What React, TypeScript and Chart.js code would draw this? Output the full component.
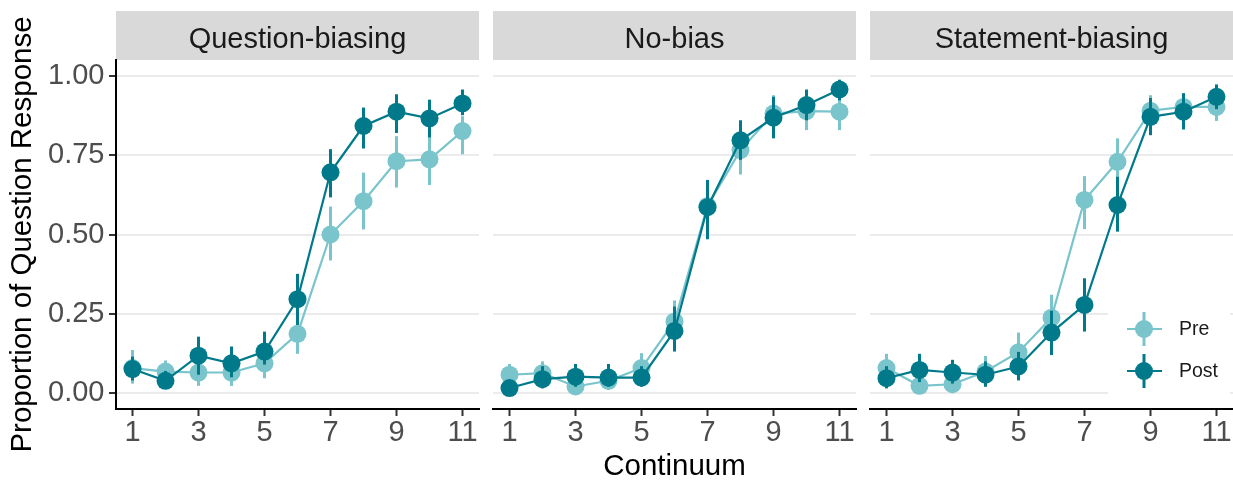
import React, { useEffect, useRef } from 'react';
import { Chart, registerables } from 'chart.js';

Chart.register(...registerables);

const FONT = "'Liberation Sans', Arial, Helvetica, sans-serif";

// ---- data ----
const continuum = [1, 2, 3, 4, 5, 6, 7, 8, 9, 10, 11];
const xTickValues = [1, 3, 5, 7, 9, 11];
const yTickValues = [0, 0.25, 0.5, 0.75, 1];
const yTickLabels = ['0.00', '0.25', '0.50', '0.75', '1.00'];
const panelTitles = ['Question-biasing', 'No-bias', 'Statement-biasing'];
const seriesNames = ['Pre', 'Post'];
const seriesColors = ['#7AC4CC', '#007A8A'];

// Question-biasing
const qPre = [0.079, 0.068, 0.065, 0.065, 0.094, 0.187, 0.5, 0.605, 0.731, 0.737, 0.826];
const qPreLo = [0.03, 0.035, 0.023, 0.023, 0.047, 0.124, 0.418, 0.516, 0.648, 0.656, 0.753];
const qPreHi = [0.136, 0.103, 0.105, 0.105, 0.14, 0.25, 0.588, 0.695, 0.81, 0.81, 0.873];
const qPost = [0.076, 0.039, 0.118, 0.094, 0.131, 0.296, 0.696, 0.842, 0.887, 0.866, 0.913];
const qPostLo = [0.04, 0.015, 0.058, 0.05, 0.09, 0.215, 0.617, 0.771, 0.82, 0.806, 0.876];
const qPostHi = [0.115, 0.07, 0.178, 0.147, 0.194, 0.376, 0.769, 0.9, 0.942, 0.925, 0.957];

// No-bias
const nPre = [0.058, 0.063, 0.021, 0.039, 0.079, 0.226, 0.59, 0.766, 0.881, 0.889, 0.887];
const nPreLo = [0.025, 0.03, 0.0, 0.01, 0.04, 0.16, 0.5, 0.689, 0.825, 0.829, 0.829];
const nPreHi = [0.092, 0.1, 0.05, 0.075, 0.126, 0.292, 0.67, 0.84, 0.939, 0.945, 0.935];
const nPost = [0.016, 0.044, 0.052, 0.049, 0.049, 0.196, 0.586, 0.797, 0.868, 0.908, 0.957];
const nPostLo = [0.0, 0.015, 0.02, 0.02, 0.02, 0.131, 0.485, 0.735, 0.803, 0.86, 0.923];
const nPostHi = [0.04, 0.085, 0.092, 0.092, 0.085, 0.273, 0.672, 0.86, 0.934, 0.957, 0.988];

// Statement-biasing
const sPre = [0.079, 0.023, 0.028, 0.068, 0.129, 0.238, 0.609, 0.729, 0.89, 0.902, 0.902];
const sPreLo = [0.04, 0.0, 0.0, 0.03, 0.08, 0.17, 0.517, 0.661, 0.84, 0.855, 0.858];
const sPreHi = [0.124, 0.05, 0.06, 0.117, 0.191, 0.31, 0.684, 0.803, 0.939, 0.946, 0.945];
const sPost = [0.047, 0.073, 0.065, 0.058, 0.084, 0.191, 0.278, 0.593, 0.871, 0.887, 0.934];
const sPostLo = [0.015, 0.035, 0.03, 0.02, 0.04, 0.12, 0.194, 0.509, 0.813, 0.831, 0.895];
const sPostHi = [0.085, 0.124, 0.105, 0.1, 0.13, 0.26, 0.362, 0.682, 0.93, 0.945, 0.973];

const panelData = [
  [[qPre, qPreLo, qPreHi], [qPost, qPostLo, qPostHi]],
  [[nPre, nPreLo, nPreHi], [nPost, nPostLo, nPostHi]],
  [[sPre, sPreLo, sPreHi], [sPost, sPostLo, sPostHi]],
];

// ---- layout of the three canvases ----
const panels = [
  { left: 0, width: 480, padLeft: 0, padRight: 1, yAxis: true, xTitle: false, legend: false },
  { left: 480, width: 377, padLeft: 13, padRight: 1, yAxis: false, xTitle: true, legend: false },
  { left: 857, width: 376, padLeft: 13, padRight: 0, yAxis: false, xTitle: false, legend: true },
];
const H = 482;

// ---- plugins ----
const errorBarPlugin = {
  id: 'errorBars',
  beforeDatasetDraw(chart: any, args: any) {
    const ds = chart.data.datasets[args.index];
    const { ctx } = chart;
    const x = chart.scales.x;
    const y = chart.scales.y;
    ctx.save();
    ctx.strokeStyle = ds.borderColor;
    ctx.lineWidth = 3;
    ctx.lineCap = 'butt';
    ds.data.forEach((p: any) => {
      const px = x.getPixelForValue(p.x);
      ctx.beginPath();
      ctx.moveTo(px, y.getPixelForValue(p.lo));
      ctx.lineTo(px, y.getPixelForValue(p.hi));
      ctx.stroke();
    });
    ctx.restore();
  },
};

const stripPlugin = {
  id: 'strip',
  beforeDraw(chart: any, _args: any, opts: any) {
    const { ctx, chartArea } = chart;
    ctx.save();
    ctx.fillStyle = '#D9D9D9';
    ctx.fillRect(chartArea.left, 11, chartArea.right - chartArea.left, 49);
    ctx.fillStyle = '#1A1A1A';
    ctx.font = `29px ${FONT}`;
    ctx.textAlign = 'center';
    ctx.textBaseline = 'alphabetic';
    ctx.fillText(opts.text, (chartArea.left + chartArea.right) / 2, 47.5);
    ctx.restore();
  },
};

const insetLegendPlugin = {
  id: 'insetLegend',
  afterDraw(chart: any, _args: any, opts: any) {
    if (!opts.display) return;
    const { ctx, chartArea } = chart;
    const r = chartArea.right;
    const b = chartArea.bottom;
    ctx.save();
    ctx.fillStyle = '#FFFFFF';
    ctx.fillRect(r - 125, b - 111, 122, 104);
    const cx = r - 89;
    const rows = [b - 80, b - 38];
    seriesNames.forEach((name, i) => {
      const cy = rows[i];
      const col = seriesColors[i];
      ctx.strokeStyle = col;
      ctx.lineWidth = 2.2;
      ctx.beginPath();
      ctx.moveTo(cx - 17, cy);
      ctx.lineTo(cx + 18, cy);
      ctx.stroke();
      ctx.lineWidth = 3;
      ctx.beginPath();
      ctx.moveTo(cx, cy - 17);
      ctx.lineTo(cx, cy + 17);
      ctx.stroke();
      ctx.fillStyle = col;
      ctx.beginPath();
      ctx.arc(cx, cy, 9, 0, Math.PI * 2);
      ctx.fill();
      ctx.fillStyle = '#1A1A1A';
      ctx.font = `19.5px ${FONT}`;
      ctx.textAlign = 'left';
      ctx.textBaseline = 'middle';
      ctx.fillText(name, r - 54, cy + 0.5);
    });
    ctx.restore();
  },
};

function makeConfig(pi: number) {
  const p = panels[pi];
  const datasets = panelData[pi].map((s, si) => ({
    label: seriesNames[si],
    data: continuum.map((c, k) => ({ x: c, y: s[0][k], lo: s[1][k], hi: s[2][k] })),
    borderColor: seriesColors[si],
    backgroundColor: seriesColors[si],
    pointBackgroundColor: seriesColors[si],
    pointBorderWidth: 0,
    pointRadius: 9,
    pointHoverRadius: 9,
    borderWidth: 2.2,
    tension: 0,
    order: si === 0 ? 2 : 1,
  }));
  return {
    type: 'line',
    data: { datasets },
    plugins: [stripPlugin, errorBarPlugin, insetLegendPlugin],
    options: {
      animation: false,
      responsive: false,
      devicePixelRatio: 1,
      events: [],
      parsing: { xAxisKey: 'x', yAxisKey: 'y' },
      layout: { autoPadding: false, padding: { top: 60, bottom: 0, left: p.padLeft, right: p.padRight } },
      plugins: {
        legend: { display: false },
        tooltip: { enabled: false },
        title: { display: false },
        strip: { text: panelTitles[pi] },
        insetLegend: { display: p.legend },
      },
      scales: {
        x: {
          type: 'linear',
          min: 0.5,
          max: 11.5,
          afterBuildTicks: (scale: any) => {
            scale.ticks = xTickValues.map((v) => ({ value: v }));
          },
          afterFit: (scale: any) => {
            scale.height = 73;
            scale.paddingLeft = 0;
            scale.paddingRight = 0;
            scale.paddingTop = 0;
            scale.paddingBottom = 0;
          },
          grid: {
            drawOnChartArea: false,
            drawTicks: true,
            tickLength: 7,
            tickColor: '#333333',
            tickWidth: 2,
          },
          border: { display: true, color: '#000000', width: 2 },
          ticks: {
            autoSkip: false,
            maxRotation: 0,
            minRotation: 0,
            padding: 2,
            color: '#4D4D4D',
            font: { family: FONT, size: 29, lineHeight: 1 },
            callback: (v: any) => String(v),
          },
          title: {
            display: p.xTitle,
            text: 'Continuum',
            color: '#000000',
            font: { family: FONT, size: 29.5, lineHeight: 1 },
            padding: { top: 0, bottom: 0 },
          },
        },
        y: {
          type: 'linear',
          min: -0.05,
          max: 1.05,
          afterBuildTicks: (scale: any) => {
            scale.ticks = yTickValues.map((v) => ({ value: v }));
          },
          afterFit: (scale: any) => {
            scale.width = p.yAxis ? 116 : 0;
            scale.paddingLeft = 0;
            scale.paddingRight = 0;
            scale.paddingTop = 0;
            scale.paddingBottom = 0;
          },
          grid: {
            drawOnChartArea: true,
            color: '#EBEBEB',
            lineWidth: 2,
            drawTicks: p.yAxis,
            tickLength: 7,
            tickColor: '#333333',
            tickWidth: 2,
          },
          border: { display: p.yAxis, color: '#000000', width: 2 },
          ticks: {
            display: p.yAxis,
            padding: 4.5,
            color: '#4D4D4D',
            font: { family: FONT, size: 29, lineHeight: 1 },
            callback: (v: any) => {
              const idx = yTickValues.indexOf(v);
              return idx >= 0 ? yTickLabels[idx] : '';
            },
          },
          title: {
            display: p.yAxis,
            text: 'Proportion of Question Response',
            color: '#000000',
            font: { family: FONT, size: 29.5, lineHeight: 1 },
            padding: { top: 8.4, bottom: 0 },
          },
        },
      },
    },
  };
}

function Panel({ index }: { index: number }) {
  const ref = useRef<HTMLCanvasElement | null>(null);
  useEffect(() => {
    if (!ref.current) return;
    const chart = new Chart(ref.current, makeConfig(index) as any);
    return () => chart.destroy();
  }, [index]);
  const p = panels[index];
  return (
    <canvas
      ref={ref}
      width={p.width}
      height={H}
      style={{ position: 'absolute', left: p.left, top: 0, width: p.width, height: H, display: 'block' }}
    />
  );
}

export default function App() {
  useEffect(() => {
    document.body.style.margin = '0';
    document.body.style.background = '#FFFFFF';
  }, []);
  return (
    <div style={{ position: 'relative', width: 1233, height: H, background: '#FFFFFF', overflow: 'hidden' }}>
      {panels.map((_, i) => (
        <Panel key={i} index={i} />
      ))}
    </div>
  );
}
